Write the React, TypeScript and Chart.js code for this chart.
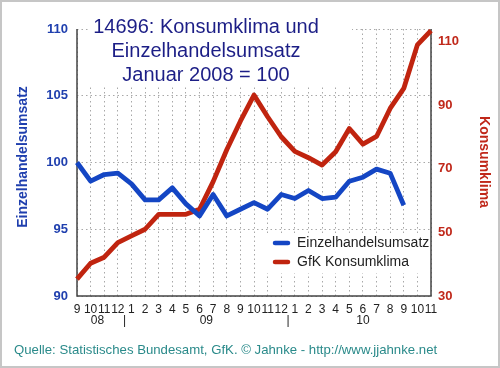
import React, { useEffect, useRef } from 'react';
import { Chart, registerables } from 'chart.js';

Chart.register(...registerables);

// ---- data ----
const monthLabels = ['9', '10', '11', '12', '1', '2', '3', '4', '5', '6', '7', '8', '9', '10', '11', '12', '1', '2', '3', '4', '5', '6', '7', '8', '9', '10', '11'];
const yearLabels = ['08', '|', '09', '|', '10'];
const yearLabelIndex = [1.5, 3.5, 9.5, 15.5, 21];

const einzelhandelsumsatz = [100, 98.6, 99.1, 99.2, 98.4, 97.2, 97.2, 98.1, 96.9, 96.0, 97.6, 96.0, 96.5, 97.0, 96.5, 97.6, 97.3, 97.9, 97.3, 97.4, 98.6, 98.9, 99.5, 99.2, 96.8, null, null];
const konsumklima = [35.3, 40.3, 42.2, 46.8, 48.9, 51.0, 55.7, 55.7, 55.7, 57.3, 66.0, 76.0, 85.0, 93.2, 86.4, 80.1, 75.5, 73.5, 71.2, 75.4, 82.7, 77.8, 80.2, 89.0, 95.3, 109.0, 113.5];

const leftTicks = [90, 95, 100, 105, 110];
const rightTicks = [30, 50, 70, 90, 110];

const titleLines = ['14696: Konsumklima und', 'Einzelhandelsumsatz', 'Januar 2008 = 100'];
const leftAxisTitle = 'Einzelhandelsumsatz';
const rightAxisTitle = 'Konsumklima';
const seriesNames = ['Einzelhandelsumsatz', 'GfK Konsumklima'];
const footer = 'Quelle: Statistisches Bundesamt, GfK. \u00A9 Jahnke - http://www.jjahnke.net';

// ---- styles ----
const FONT = "'Liberation Sans', Arial, Helvetica, sans-serif";
const BLUE = '#1446c4';
const RED = '#c0240f';
const AXIS_BLUE = '#1f3fae';
const AXIS_RED = '#c0281a';
const TITLE_COLOR = '#1c1e86';
const GRID = '#a8a8a8';
const AXIS_LINE = '#444444';

const decor = {
  id: 'decor',
  beforeDraw(chart: any) {
    const { ctx, width, height } = chart;
    ctx.save();
    ctx.fillStyle = '#ffffff';
    ctx.fillRect(0, 0, width, height);
    ctx.restore();
  },
  beforeDatasetsDraw(chart: any) {
    const { ctx, chartArea } = chart;
    const { left, right, top, bottom } = chartArea;
    ctx.save();
    // title background
    ctx.fillStyle = '#ffffff';
    ctx.fillRect(88, 2, 264, 83);
    // axis lines
    ctx.strokeStyle = AXIS_LINE;
    ctx.lineWidth = 1.5;
    ctx.beginPath();
    ctx.moveTo(left, top);
    ctx.lineTo(left, bottom);
    ctx.lineTo(right, bottom);
    ctx.lineTo(right, top);
    ctx.stroke();
    // title text
    ctx.fillStyle = TITLE_COLOR;
    ctx.font = `20px ${FONT}`;
    ctx.textAlign = 'center';
    ctx.textBaseline = 'alphabetic';
    titleLines.forEach((t, i) => ctx.fillText(t, 206, 33 + i * 24));
    ctx.restore();
  },
  afterDraw(chart: any) {
    const { ctx, width, height, scales } = chart;
    ctx.save();
    // axis titles
    ctx.font = `bold 14px ${FONT}`;
    ctx.textAlign = 'center';
    ctx.textBaseline = 'middle';
    ctx.fillStyle = AXIS_BLUE;
    ctx.save();
    ctx.translate(23, 157);
    ctx.rotate(-Math.PI / 2);
    ctx.fillText(leftAxisTitle, 0, 0);
    ctx.restore();
    ctx.fillStyle = AXIS_RED;
    ctx.save();
    ctx.translate(484, 162);
    ctx.rotate(Math.PI / 2);
    ctx.fillText(rightAxisTitle, 0, 0);
    ctx.restore();

    // year row
    ctx.fillStyle = '#222222';
    ctx.font = `12px ${FONT}`;
    ctx.textAlign = 'center';
    ctx.textBaseline = 'middle';
    yearLabels.forEach((t, i) => {
      const x = scales.x.getPixelForValue(yearLabelIndex[i]);
      ctx.fillText(t, x, 321);
    });

    // legend
    ctx.fillStyle = '#ffffff';
    ctx.fillRect(266, 233, 163, 40);
    const colors = [BLUE, RED];
    seriesNames.forEach((name, i) => {
      const y = 243 + i * 19;
      ctx.strokeStyle = colors[i];
      ctx.lineWidth = 4.5;
      ctx.lineCap = 'round';
      ctx.beginPath();
      ctx.moveTo(275, y);
      ctx.lineTo(288, y);
      ctx.stroke();
      ctx.fillStyle = '#222222';
      ctx.font = `14px ${FONT}`;
      ctx.textAlign = 'left';
      ctx.textBaseline = 'middle';
      ctx.fillText(name, 297, y);
    });

    // footer
    ctx.fillStyle = '#2a8a8a';
    ctx.font = `13.2px ${FONT}`;
    ctx.textAlign = 'left';
    ctx.textBaseline = 'middle';
    ctx.fillText(footer, 14, 350);

    // outer frame
    ctx.strokeStyle = '#c6c6c6';
    ctx.lineWidth = 2;
    ctx.strokeRect(1, 1, width - 2, height - 2);
    ctx.restore();
  },
};

const App = () => {
  const ref = useRef<HTMLCanvasElement>(null);
  useEffect(() => {
    const canvas = ref.current;
    if (!canvas) return;
    Chart.defaults.font.family = FONT;
    const chart = new Chart(canvas, {
      type: 'line',
      data: {
        labels: monthLabels,
        datasets: [
          {
            label: seriesNames[0],
            data: einzelhandelsumsatz,
            yAxisID: 'y',
            borderColor: BLUE,
            backgroundColor: BLUE,
            borderWidth: 4.8,
            pointRadius: 0,
            tension: 0,
            borderJoinStyle: 'round',
            spanGaps: false,
          },
          {
            label: seriesNames[1],
            data: konsumklima,
            yAxisID: 'y1',
            borderColor: RED,
            backgroundColor: RED,
            borderWidth: 4.8,
            pointRadius: 0,
            tension: 0,
            borderJoinStyle: 'round',
          },
        ],
      },
      options: {
        responsive: false,
        animation: false,
        devicePixelRatio: 1,
        layout: { padding: { top: 29, left: 0, right: 0, bottom: 0 } },
        plugins: {
          legend: { display: false },
          title: { display: false },
          tooltip: { enabled: false },
        },
        scales: {
          x: {
            type: 'category',
            offset: false,
            grid: { display: true, color: GRID, lineWidth: 1, drawTicks: false },
            border: { display: false, dash: [1.5, 3] },
            ticks: {
              autoSkip: false,
              maxRotation: 0,
              minRotation: 0,
              padding: 6,
              color: '#222222',
              font: { size: 12, family: FONT },
            },
            afterFit: (s: any) => { s.height = 72; },
          },
          y: {
            type: 'linear',
            position: 'left',
            min: 90,
            max: 110,
            afterBuildTicks: (s: any) => { s.ticks = leftTicks.map((v) => ({ value: v })); },
            grid: { display: true, color: GRID, lineWidth: 1, drawTicks: false },
            border: { display: false, dash: [1.5, 3] },
            ticks: {
              padding: 9,
              color: AXIS_BLUE,
              font: { size: 13, weight: 'bold', family: FONT },
            },
            afterFit: (s: any) => { s.width = 77; },
          },
          y1: {
            type: 'linear',
            position: 'right',
            min: 30,
            max: 114,
            afterBuildTicks: (s: any) => { s.ticks = rightTicks.map((v) => ({ value: v })); },
            grid: { display: false, drawOnChartArea: false, drawTicks: false },
            border: { display: false },
            ticks: {
              padding: 7,
              color: AXIS_RED,
              font: { size: 13, weight: 'bold', family: FONT },
            },
            afterFit: (s: any) => { s.width = 69; },
          },
        },
      },
      plugins: [decor],
    } as any);
    return () => chart.destroy();
  }, []);
  return (
    <div style={{ position: 'absolute', left: 0, top: 0, width: 500, height: 368 }}>
      <canvas ref={ref} width={500} height={368} style={{ display: 'block', width: 500, height: 368 }} />
    </div>
  );
};

export default App;
